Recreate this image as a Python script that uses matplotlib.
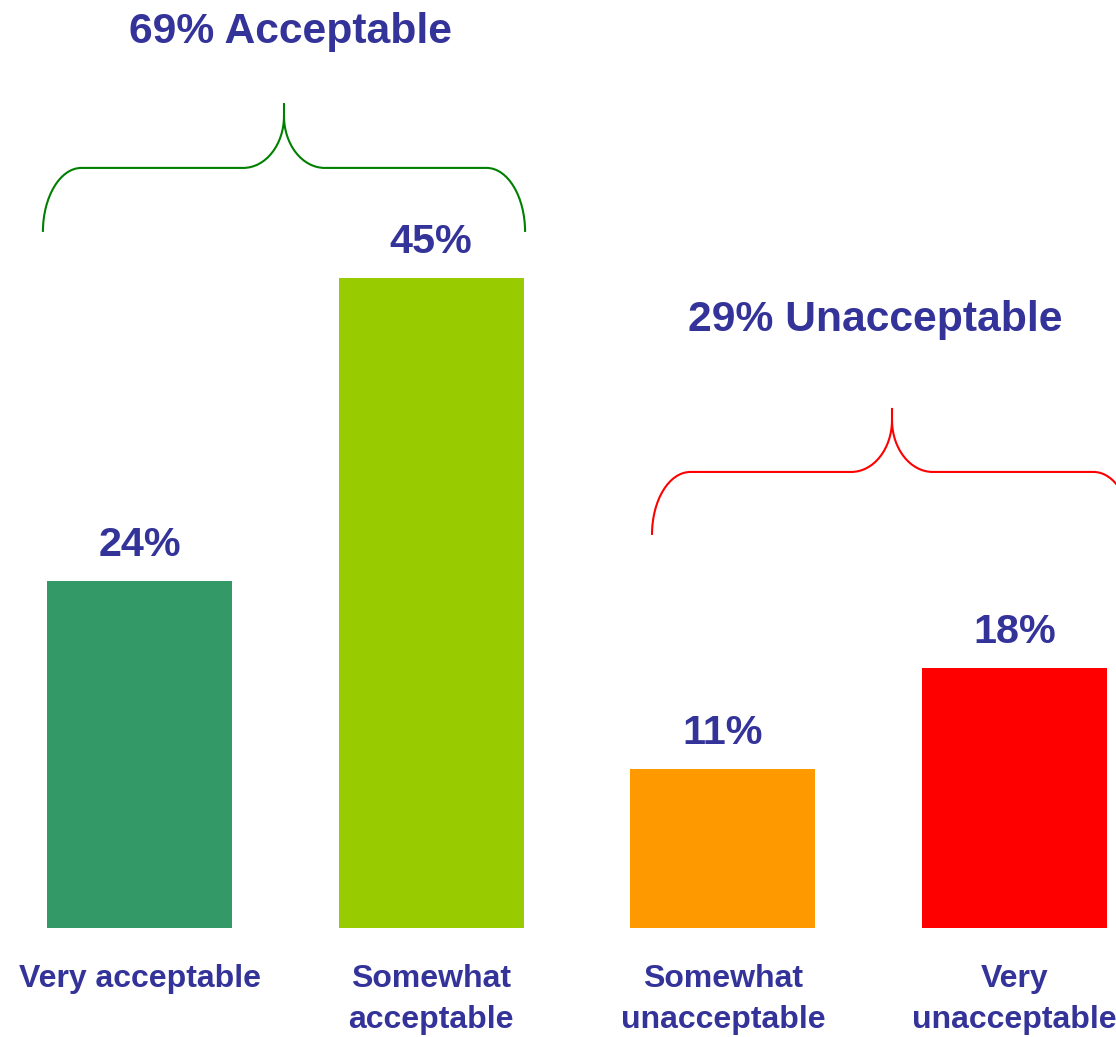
import matplotlib
matplotlib.use("Agg")
import matplotlib.pyplot as plt
from matplotlib.path import Path
from matplotlib.patches import PathPatch

# ---- data ----
categories = ["Very acceptable", "Somewhat\nacceptable", "Somewhat\nunacceptable", "Very\nunacceptable"]
values = [24, 45, 11, 18]
value_labels = ["24%", "45%", "11%", "18%"]
bar_colors = ["#339966", "#99CC00", "#FF9900", "#FF0000"]
group_labels = ["69% Acceptable", "29% Unacceptable"]
group_members = [(0, 1), (2, 3)]
brace_colors = ["#008000", "#FF0000"]

TEXT_COLOR = "#333399"
FONT = ["Liberation Sans", "DejaVu Sans"]

fig = plt.figure(figsize=(11.16, 10.37), dpi=100)
ax = fig.add_axes([0, 0, 1, 1])
ax.set_xlim(-0.4783, 3.348)
ax.set_ylim(-7.543, 64.22)
ax.axis("off")

x = list(range(len(values)))
ax.bar(x, values, width=0.634, color=bar_colors, zorder=2)

# value labels
for xi, v, lab in zip(x, values, value_labels):
    ax.text(xi, v + 1.73, lab, ha="center", va="baseline", fontsize=29.8,
            fontweight="bold", color=TEXT_COLOR, family=FONT)

# category labels
for xi, lab in zip(x, categories):
    ax.text(xi, -2.46, lab, ha="center", va="top", fontsize=23,
            fontweight="bold", color=TEXT_COLOR, family=FONT, linespacing=1.5)


def brace(xl, xr, yb, ym, ytip, cdx, cdy, tdx, tdy, color):
    k = 0.5523
    xc = (xl + xr) / 2
    verts = [
        (xl, yb),
        (xl, yb + k * cdy), (xl + cdx - k * cdx, ym), (xl + cdx, ym),
        (xc - tdx, ym),
        (xc - tdx + k * tdx, ym), (xc, ym + tdy - k * tdy), (xc, ym + tdy),
        (xc, ytip),
        (xc, ym + tdy),
        (xc, ym + tdy - k * tdy), (xc + tdx - k * tdx, ym), (xc + tdx, ym),
        (xr - cdx, ym),
        (xr - cdx + k * cdx, ym), (xr, yb + k * cdy), (xr, yb),
    ]
    codes = [Path.MOVETO,
             Path.CURVE4, Path.CURVE4, Path.CURVE4,
             Path.LINETO,
             Path.CURVE4, Path.CURVE4, Path.CURVE4,
             Path.LINETO,
             Path.MOVETO,
             Path.CURVE4, Path.CURVE4, Path.CURVE4,
             Path.LINETO,
             Path.CURVE4, Path.CURVE4, Path.CURVE4]
    ax.add_patch(PathPatch(Path(verts, codes), facecolor="none", edgecolor=color,
                           lw=1.5, capstyle="butt", zorder=3))


# brace geometry (layout)
brace_specs = [
    dict(xl=-0.3312, xr=1.3220, yb=48.17, ym=52.60, ytip=57.09),
    dict(xl=1.7571, xr=3.4029, yb=27.20, ym=31.56, ytip=35.99),
]
title_specs = [(0.518, 61.26), (2.522, 41.30)]

for (i, j), lab, col, spec, (tx, ty) in zip(group_members, group_labels, brace_colors,
                                            brace_specs, title_specs):
    brace(spec["xl"], spec["xr"], spec["yb"], spec["ym"], spec["ytip"],
          cdx=0.132, cdy=4.40, tdx=0.140, tdy=3.60, color=col)
    ax.text(tx, ty, lab, ha="center", va="baseline", fontsize=30.7,
            fontweight="bold", color=TEXT_COLOR, family=FONT)

fig.savefig("out.png", dpi=100)
